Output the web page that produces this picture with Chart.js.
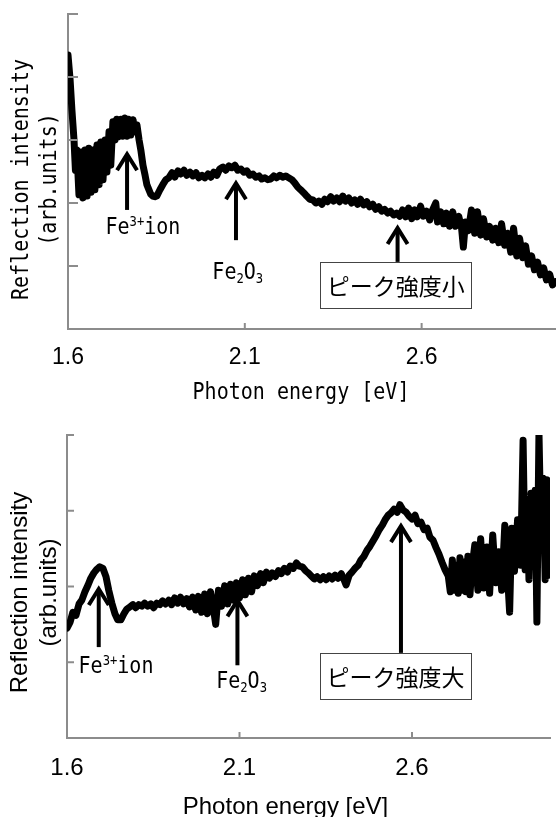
<!DOCTYPE html>
<html>
<head>
<meta charset="utf-8">
<script src="https://cdn.jsdelivr.net/npm/chart.js@4.4.1/dist/chart.umd.min.js"></script>
<style>
  body { margin: 0; background: #fff; }
  #wrap { position: relative; width: 556px; height: 817px; overflow: hidden; }
  canvas { position: absolute; left: 0; }
</style>
</head>
<body>
<div id="wrap">
  <canvas id="topChart" width="556" height="420" style="top:0"></canvas>
  <canvas id="bottomChart" width="556" height="417" style="top:400px"></canvas>
</div>
<script>
// ---- data ----
const xTicks = [1.6, 2.1, 2.6];
const topYTicks = [1, 2, 3, 4, 5];
const bottomYTicks = [1, 2, 3, 4];

// upper panel (weak peak)
const topEnergy = [1.600,1.606,1.611,1.617,1.621,1.625,
  1.631,1.637,1.642,1.648,1.654,1.659,1.665,1.671,1.676,1.682,
  1.688,1.693,1.699,1.705,1.710,1.716,1.721,1.727,1.733,1.738,
  1.744,1.750,1.755,1.761,1.767,1.772,1.778,1.784,1.789,1.795,
  1.801,1.806,1.812,1.818,1.823,1.829,1.834,1.840,1.846,1.851,
  1.860,1.868,1.877,1.885,1.894,1.902,1.911,1.919,1.928,1.936,
  1.945,1.953,1.962,1.970,1.979,1.987,1.996,2.004,2.012,2.021,
  2.029,2.038,2.046,2.055,2.063,2.072,2.080,2.089,2.097,2.106,
  2.114,2.123,2.131,2.140,2.148,
  2.157,2.165,2.173,2.182,2.190,2.199,2.207,2.216,2.224,2.233,
  2.241,2.250,2.258,2.267,2.275,2.284,2.292,2.301,2.309,2.318,
  2.326,2.334,2.343,2.351,2.360,2.368,2.377,2.385,2.394,2.402,
  2.411,2.419,2.427,2.436,2.445,2.453,2.462,2.470,2.479,2.487,
  2.495,2.504,2.512,2.521,2.529,2.538,2.546,2.555,2.563,2.572,
  2.580,2.588,2.597,2.605,2.614,2.623,2.631,2.640,
  2.645,2.654,2.662,2.670,2.679,2.688,2.696,2.705,2.713,2.718,2.724,
  2.732,2.741,2.750,2.758,2.767,2.775,2.784,2.792,2.801,2.809,
  2.818,2.826,2.835,2.843,2.852,2.860,2.869,2.877,2.886,2.894,
  2.902,2.911,2.919,2.928,2.936,2.945,2.953,2.962,2.970,2.979];
const topIntensity = [4.35,3.95,3.48,3.00,2.52,2.84,
  2.13,2.81,2.08,2.84,2.11,2.87,2.17,2.84,2.21,2.92,
  2.29,2.97,2.37,3.00,2.49,3.13,2.60,3.29,3.00,3.33,
  3.05,3.33,3.06,3.35,3.06,3.33,3.08,3.32,3.13,3.24,
  3.00,2.84,2.60,2.44,2.29,2.21,2.14,2.11,2.10,2.11,
  2.21,2.29,2.37,2.40,2.48,2.41,2.51,2.46,2.52,2.44,
  2.49,2.43,2.48,2.40,2.44,2.40,2.46,2.41,2.49,2.44,
  2.54,2.57,2.52,2.59,2.56,2.60,2.52,2.54,2.49,2.51,
  2.44,2.46,2.41,2.43,2.38,
  2.40,2.37,2.38,2.43,2.40,2.44,2.41,2.43,2.40,2.37,
  2.32,2.25,2.21,2.16,2.11,2.06,2.05,2.00,2.03,1.98,
  2.06,2.02,2.10,2.03,2.08,2.02,2.11,2.03,2.08,2.00,
  2.05,1.98,2.06,1.97,2.02,1.94,1.98,1.90,1.94,1.87,
  1.90,1.84,1.87,1.81,1.84,1.79,1.89,1.78,1.92,1.75,
  1.89,1.78,1.95,1.79,1.87,1.73,1.89,2.00,
  1.70,1.86,1.67,1.84,1.63,1.86,1.63,1.79,1.60,1.30,1.70,
  1.56,1.89,1.52,1.86,1.49,1.75,1.46,1.63,1.41,1.60,
  1.37,1.67,1.33,1.52,1.22,1.60,1.16,1.44,1.13,1.32,
  1.03,1.16,0.94,1.06,0.86,0.97,0.78,0.87,0.70,0.75];

// lower panel (strong peak)
const bottomEnergy = [1.600,1.609,1.617,1.626,1.635,1.643,1.652,1.661,1.669,1.678,
  1.687,1.695,1.704,1.713,1.721,1.730,1.739,1.747,1.756,1.765,
  1.773,1.782,1.791,1.799,1.808,1.817,1.825,1.834,1.843,1.851,
  1.860,1.869,1.877,1.886,1.895,1.903,1.912,1.921,1.929,1.938,
  1.947,1.955,1.964,1.973,1.981,1.990,1.999,2.007,2.016,2.025,
  2.031,2.039,2.048,2.057,2.066,2.074,2.083,2.091,2.100,2.109,
  2.117,2.126,2.135,2.143,2.152,2.161,2.169,2.178,2.187,2.195,
  2.204,2.213,2.221,2.230,2.239,2.247,2.256,2.265,2.273,2.282,
  2.291,2.299,2.308,2.317,2.325,2.334,2.343,2.351,2.360,2.369,
  2.377,2.386,2.395,2.403,2.409,2.418,2.426,2.435,2.444,2.452,
  2.461,2.470,2.478,2.487,2.496,2.505,2.514,2.522,2.531,2.539,
  2.548,2.557,2.565,2.574,2.583,2.591,2.600,2.609,2.617,2.626,
  2.635,2.644,2.652,2.661,2.670,2.678,2.687,2.696,2.705,2.711,
  2.717,2.722,2.728,2.734,2.739,2.745,2.750,2.756,2.762,2.768,
  2.773,2.782,2.791,2.799,2.808,2.817,2.825,2.834,2.843,2.851,
  2.860,2.869,2.877,2.883,2.889,2.897,2.906,2.915,2.922,2.928,
  2.934,2.939,2.945,2.951,2.957,2.962,2.968,2.974,2.980,2.986,
  2.991,2.997,3.000];
const bottomIntensity = [1.45,1.53,1.66,1.62,1.77,1.82,1.93,2.02,2.11,2.18,
  2.23,2.26,2.24,2.13,1.95,1.78,1.64,1.56,1.56,1.64,
  1.70,1.73,1.76,1.72,1.76,1.74,1.78,1.74,1.77,1.72,
  1.78,1.76,1.81,1.77,1.82,1.76,1.85,1.78,1.86,1.77,
  1.84,1.73,1.86,1.69,1.87,1.66,1.90,1.64,1.93,1.69,
  1.50,1.95,1.74,2.01,1.77,2.03,1.82,2.05,1.85,2.09,
  1.89,2.11,1.93,2.14,2.01,2.17,2.05,2.19,2.11,2.18,
  2.13,2.21,2.17,2.24,2.19,2.27,2.24,2.31,2.27,2.26,
  2.21,2.18,2.14,2.10,2.13,2.09,2.13,2.09,2.14,2.10,
  2.15,2.11,2.17,2.09,2.02,2.15,2.19,2.24,2.28,2.35,
  2.40,2.48,2.53,2.60,2.67,2.75,2.81,2.88,2.94,2.97,
  3.02,2.98,3.08,3.01,2.98,2.93,2.89,2.94,2.83,2.85,
  2.75,2.77,2.65,2.61,2.51,2.43,2.32,2.22,2.14,1.93,
  2.35,1.95,2.28,1.91,2.38,1.95,2.32,1.93,2.40,1.89,
  2.22,2.55,1.95,2.63,1.98,2.52,1.91,2.68,2.05,2.46,
  1.95,2.81,2.13,1.66,2.77,2.20,2.88,2.28,3.93,2.22,
  3.14,2.09,3.23,2.35,3.27,1.53,4.04,2.61,3.43,2.09,
  3.41,2.15,2.88];

// ---- look ----
const AXIS = '#8c8c8c';
const GOTHIC = '"DejaVu Sans Mono", "Noto Sans CJK JP", monospace';
const JP = '"Noto Sans CJK JP", sans-serif';
const SANS = '"Liberation Sans", Arial, sans-serif';

function rich(ctx, parts, cx, cy, size, family, sx) {
  const setFont = p => { ctx.font = ((p.sup || p.sub) ? Math.round(size * 0.6) : size) + 'px ' + family; };
  const width = p => { setFont(p); return ctx.measureText(p.t).width * sx; };
  const total = parts.reduce((s, p) => s + width(p), 0);
  let x = cx - total / 2;
  ctx.textAlign = 'left';
  ctx.textBaseline = 'middle';
  parts.forEach(p => {
    const w = width(p);
    const dy = p.sup ? -size * 0.24 : p.sub ? size * 0.26 : 0;
    ctx.save();
    ctx.translate(x, cy + dy);
    ctx.scale(sx, 1);
    ctx.fillText(p.t, 0, 0);
    ctx.restore();
    x += w;
  });
}

function text(ctx, s, x, y, font, sx, rot) {
  ctx.save();
  ctx.translate(x, y);
  if (rot) ctx.rotate(rot);
  ctx.scale(sx, 1);
  ctx.font = font;
  ctx.textAlign = 'center';
  ctx.textBaseline = 'middle';
  ctx.fillText(s, 0, 0);
  ctx.restore();
}

const decor = {
  id: 'decor',
  afterDraw(chart, args, o) {
    const ctx = chart.ctx, xs = chart.scales.x, ys = chart.scales.y, a = chart.chartArea;
    const seg = (x1, y1, x2, y2) => { ctx.beginPath(); ctx.moveTo(x1, y1); ctx.lineTo(x2, y2); ctx.stroke(); };
    ctx.save();
    // inner tick marks
    ctx.strokeStyle = AXIS;
    ctx.lineWidth = 2;
    o.yTicks.forEach(v => { const py = ys.getPixelForValue(v); seg(a.left, py, a.left + o.yTickLen, py); });
    o.xTicks.forEach(v => { const px = xs.getPixelForValue(v); if (px > a.left + 2) seg(px, a.bottom, px, a.bottom - 6); });
    // tick labels
    ctx.fillStyle = '#000';
    o.xTicks.forEach(v => text(ctx, v.toFixed(1), xs.getPixelForValue(v), a.bottom + o.tickGap, o.tickFont, 1));
    // axis titles
    const cx = (a.left + a.right) / 2, cy = (a.top + a.bottom) / 2;
    text(ctx, o.xTitle, cx + o.xTitleDx, a.bottom + o.xTitleGap, o.titleFont, o.titleSx);
    o.yTitle.forEach((s, i) => text(ctx, s, o.yTitleX[i], cy + o.yTitleDy, o.titleFont, o.titleSx, -Math.PI / 2));
    // arrows
    ctx.strokeStyle = '#000';
    ctx.lineWidth = 4;
    ctx.lineCap = 'butt';
    o.arrows.forEach(ar => {
      const px = xs.getPixelForValue(ar.x), tip = ys.getPixelForValue(ar.tip), end = ys.getPixelForValue(ar.end);
      seg(px, tip + 2, px, end);
      ctx.beginPath();
      ctx.moveTo(px - 10, tip + 17);
      ctx.lineTo(px, tip + 1);
      ctx.lineTo(px + 10, tip + 17);
      ctx.stroke();
    });
    // labels
    o.labels.forEach(l => rich(ctx, l.parts, xs.getPixelForValue(l.x), ys.getPixelForValue(l.y), 23, GOTHIC, 0.87));
    // boxed notes
    o.boxes.forEach(b => {
      const px = xs.getPixelForValue(b.x), py = ys.getPixelForValue(b.y);
      ctx.fillStyle = '#fff';
      ctx.fillRect(px - b.w / 2, py - b.h / 2, b.w, b.h);
      ctx.strokeStyle = '#444';
      ctx.lineWidth = 1;
      ctx.strokeRect(Math.round(px - b.w / 2) + 0.5, Math.round(py - b.h / 2) + 0.5, b.w, b.h);
      ctx.fillStyle = '#000';
      text(ctx, b.text, px, py + 1, '23px ' + JP, 1);
    });
    ctx.restore();
  }
};

function makeChart(id, energy, intensity, xMax, yMax, padding, deco) {
  return new Chart(document.getElementById(id), {
    type: 'line',
    data: {
      datasets: [{
        data: energy.map((e, i) => ({ x: e, y: intensity[i] })),
        borderColor: '#000',
        borderWidth: 7,
        borderJoinStyle: 'round',
        borderCapStyle: 'round',
        pointRadius: 0,
        fill: false,
        tension: 0
      }]
    },
    options: {
      responsive: false,
      animation: false,
      devicePixelRatio: 1,
      layout: { padding },
      plugins: { legend: { display: false }, tooltip: { enabled: false }, decor: deco },
      scales: {
        x: {
          type: 'linear', min: 1.6, max: xMax,
          grid: { display: false }, ticks: { display: false },
          border: { display: true, color: AXIS, width: 2 },
          afterFit: s => { s.height = 0; }
        },
        y: {
          min: 0, max: yMax,
          grid: { display: false }, ticks: { display: false },
          border: { display: true, color: AXIS, width: 2 },
          afterFit: s => { s.width = 0; }
        }
      }
    },
    plugins: [decor]
  });
}

makeChart('topChart', topEnergy, topIntensity, 2.98, 5,
  { left: 68, top: 14, right: 0, bottom: 91 },
  {
    xTicks, yTicks: topYTicks, yTickLen: 10,
    tickFont: '23px ' + SANS, tickGap: 29,
    xTitle: 'Photon energy [eV]', xTitleDx: -11, xTitleGap: 64,
    yTitle: ['Reflection intensity', '(arb.units)'], yTitleX: [22, 50], yTitleDy: 8,
    titleFont: '23px ' + GOTHIC, titleSx: 0.87,
    arrows: [
      { x: 1.767, tip: 2.79, end: 1.89 },
      { x: 2.075, tip: 2.33, end: 1.41 },
      { x: 2.532, tip: 1.62, end: 1.06 }
    ],
    labels: [
      { x: 1.812, y: 1.60, parts: [{ t: 'Fe' }, { t: '3+', sup: true }, { t: 'ion' }] },
      { x: 2.080, y: 0.89, parts: [{ t: 'Fe' }, { t: '2', sub: true }, { t: 'O' }, { t: '3', sub: true }] }
    ],
    boxes: [{ x: 2.527, y: 0.70, w: 151, h: 46, text: 'ピーク強度小' }]
  });

makeChart('bottomChart', bottomEnergy, bottomIntensity, 3.0, 4,
  { left: 67, top: 35, right: 6, bottom: 79 },
  {
    xTicks, yTicks: bottomYTicks, yTickLen: 7,
    tickFont: '24px ' + SANS, tickGap: 30,
    xTitle: 'Photon energy [eV]', xTitleDx: -23, xTitleGap: 69,
    yTitle: ['Reflection intensity', '(arb.units)'], yTitleX: [20, 49], yTitleDy: 6,
    titleFont: '24px ' + SANS, titleSx: 1,
    arrows: [
      { x: 1.692, tip: 1.98, end: 1.20 },
      { x: 2.094, tip: 1.83, end: 0.96 },
      { x: 2.568, tip: 2.81, end: 1.12 }
    ],
    labels: [
      { x: 1.742, y: 0.94, parts: [{ t: 'Fe' }, { t: '3+', sup: true }, { t: 'ion' }] },
      { x: 2.106, y: 0.74, parts: [{ t: 'Fe' }, { t: '2', sub: true }, { t: 'O' }, { t: '3', sub: true }] }
    ],
    boxes: [{ x: 2.552, y: 0.82, w: 151, h: 46, text: 'ピーク強度大' }]
  });
</script>
</body>
</html>
